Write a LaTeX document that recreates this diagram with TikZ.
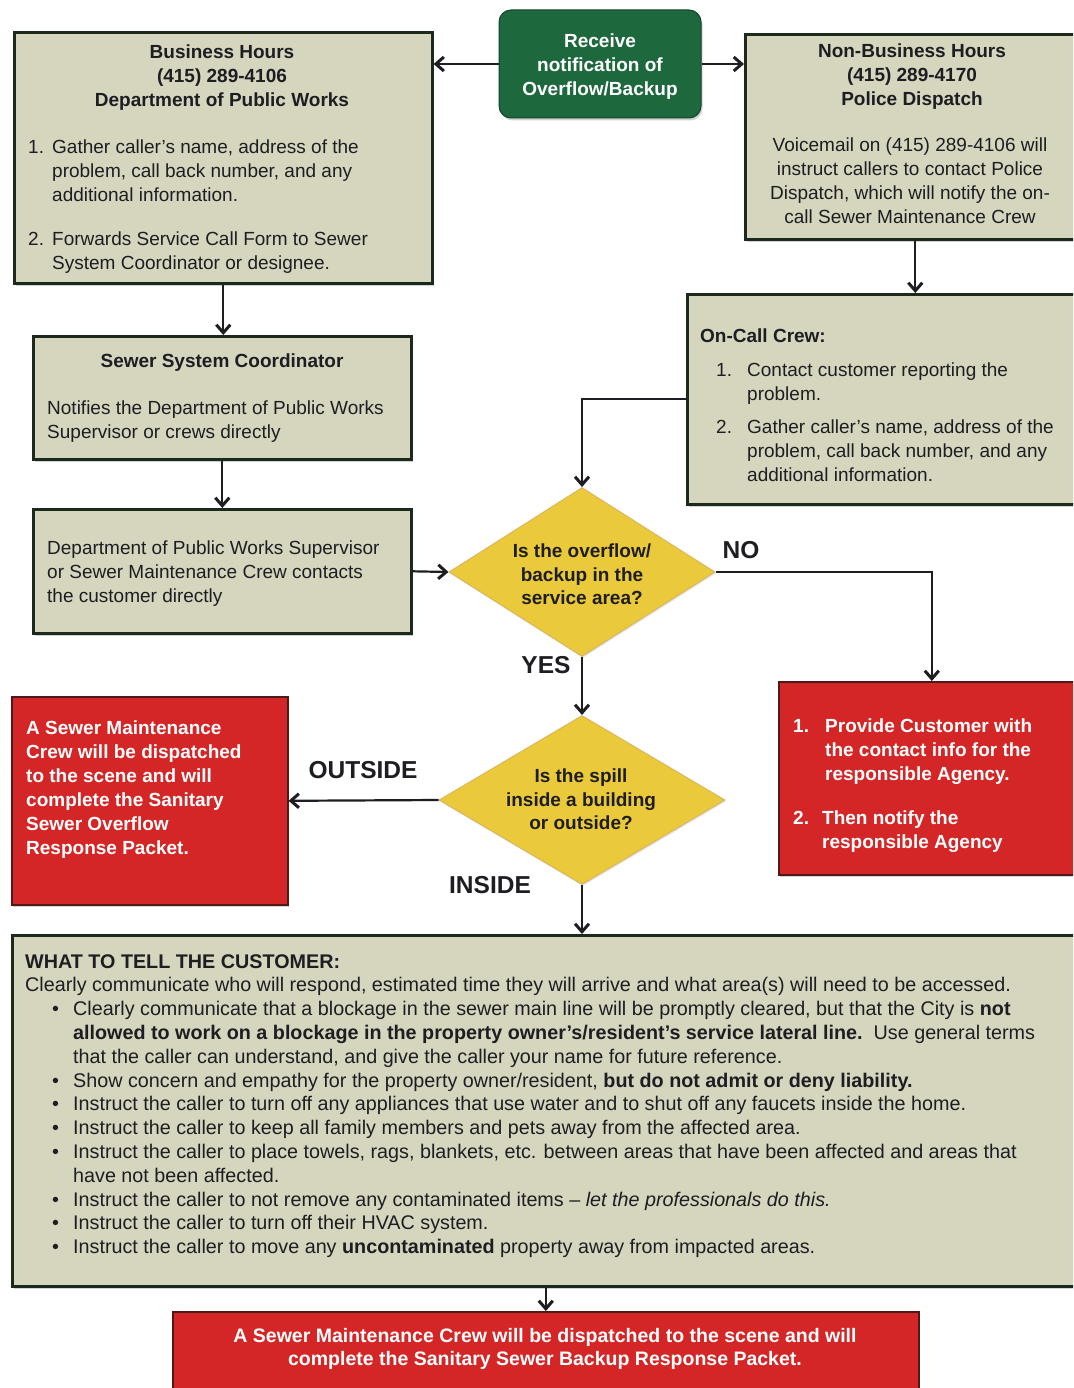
\documentclass[tikz,border=0pt]{standalone}
\usepackage{fontspec}
\setmainfont{Liberation Sans}
\usetikzlibrary{shapes.geometric,shadows,arrows.meta}

\definecolor{boxfill}{RGB}{214,213,190}
\definecolor{boxline}{RGB}{28,42,30}
\definecolor{okgreen}{RGB}{30,104,62}
\definecolor{okgreenline}{RGB}{18,70,40}
\definecolor{decide}{RGB}{234,202,58}
\definecolor{decideline}{RGB}{218,182,96}
\definecolor{alertred}{RGB}{212,38,38}
\definecolor{alertline}{RGB}{80,25,25}
\definecolor{ink}{RGB}{30,30,34}

% list helpers
\newcommand\itemno[2]{\makebox[#1][l]{#2}}
\newcommand\bulletrow{\hspace*{27pt}\makebox[21pt][l]{\textbullet}}
\newcommand\controw{\hspace*{48pt}}

\begin{document}
\begin{tikzpicture}[x=1pt,y=-1pt,
  shade/.style={drop shadow={shadow xshift=1.5pt,shadow yshift=-2.5pt,opacity=0.35}},
  panel/.style={rectangle, draw=boxline, line width=2.6pt, fill=boxfill, anchor=north west, inner sep=0pt, shade},
  alert/.style={rectangle, draw=alertline, line width=1.6pt, fill=alertred, anchor=north west, inner sep=0pt, shade},
  start/.style={rectangle, rounded corners=12pt, draw=okgreenline, line width=1pt, fill=okgreen, inner sep=0pt, shade},
  decision/.style={diamond, draw=decideline, line width=1pt, fill=decide, inner sep=0pt,
    drop shadow={shadow xshift=1pt,shadow yshift=-1.5pt,opacity=0.2}},
  txt/.style={inner sep=0pt, anchor=north west, align=left, text=ink, font=\fontsize{19}{24}\selectfont},
  head/.style={txt, anchor=north, align=center, font=\fontsize{19}{24}\selectfont\bfseries},
  qtxt/.style={txt, anchor=north, align=center, font=\fontsize{19}{23.5}\selectfont\bfseries},
  wtxt/.style={txt, text=white, font=\fontsize{19}{24}\selectfont\bfseries},
  tag/.style={inner sep=0pt, text=ink, font=\fontsize{24.5}{28}\selectfont\bfseries},
  flow/.style={draw=ink, line width=2.2pt, -{Straight Barb[length=8pt,width=14pt,line width=3pt]}}
]
\clip (0,0) rectangle (1073,1388);
\fill[white] (0,0) rectangle (1073,1388);

% ---- boxes ----
\node[start, minimum width=202pt, minimum height=108pt] (recv) at (600,64) {};
\node[head, text=white] (recvtext) at (600,34) {Receive\\notification of\\Overflow/Backup};

\node[panel, minimum width=418pt, minimum height=251pt] (bh) at (13,31) {};
\node[head] (bhhead) at (222,45) {Business Hours\\(415) 289-4106\\Department of Public Works};
\node[txt] (bhlist) at (28,140) {%
  \itemno{24pt}{1.}Gather caller’s name, address of the\\
  \hspace*{24pt}problem, call back number, and any\\
  \hspace*{24pt}additional information.\\[20pt]
  \itemno{24pt}{2.}Forwards Service Call Form to Sewer\\
  \hspace*{24pt}System Coordinator or designee.};

\node[panel, minimum width=340pt, minimum height=205pt] (nb) at (744,33) {};
\node[head] (nbhead) at (912,44) {Non-Business Hours\\(415) 289-4170\\Police Dispatch};
\node[txt, anchor=north, align=center] (nbtext) at (910,138)
  {Voicemail on (415) 289-4106 will\\instruct callers to contact Police\\Dispatch, which will notify the on-\\call Sewer Maintenance Crew};

\node[panel, minimum width=398pt, minimum height=210pt] (oc) at (686,293) {};
\node[txt, font=\fontsize{19}{24}\selectfont\bfseries] (ochead) at (700,329) {On-Call Crew:};
\node[txt] (oclist) at (716,363) {%
  \itemno{31pt}{1.}Contact customer reporting the\\
  \hspace*{31pt}problem.\\[9pt]
  \itemno{31pt}{2.}Gather caller’s name, address of the\\
  \hspace*{31pt}problem, call back number, and any\\
  \hspace*{31pt}additional information.};

\node[panel, minimum width=378pt, minimum height=123pt] (ssc) at (32,335) {};
\node[head] (sschead) at (222,354) {Sewer System Coordinator};
\node[txt] (ssctext) at (47,401) {Notifies the Department of Public Works\\Supervisor or crews directly};

\node[panel, minimum width=378pt, minimum height=124pt] (dpw) at (32,508) {};
\node[txt] (dpwtext) at (47,541) {Department of Public Works Supervisor\\or Sewer Maintenance Crew contacts\\the customer directly};

\node[decision, minimum width=266pt, minimum height=169pt] (d1) at (582,572) {};
\node[qtxt] (d1text) at (582,544) {Is the overflow/\\backup in the\\service area?};
\node[decision, minimum width=286pt, minimum height=169pt] (d2) at (582,800) {};
\node[qtxt] (d2text) at (581,769) {Is the spill\\inside a building\\or outside?};

\node[alert, minimum width=276pt, minimum height=208pt] (rl) at (11,696) {};
\node[wtxt] (rltext) at (26,721) {A Sewer Maintenance\\Crew will be dispatched\\to the scene and will\\complete the Sanitary\\Sewer Overflow\\Response Packet.};

\node[alert, minimum width=306pt, minimum height=193pt] (rr) at (778,681) {};
\node[wtxt] (rrtext) at (793,719) {%
  \itemno{32pt}{1.}Provide Customer with\\
  \hspace*{32pt}the contact info for the\\
  \hspace*{32pt}responsible Agency.\\[20pt]
  \itemno{29pt}{2.}Then notify the\\
  \hspace*{29pt}responsible Agency};

\node[panel, minimum width=1073pt, minimum height=351pt] (tell) at (11,934) {};
\node[txt, font=\fontsize{19.75}{23.8}\selectfont] (telltext) at (25,954) {%
  \textbf{WHAT TO TELL THE CUSTOMER:}\\
  Clearly communicate who will respond, estimated time they will arrive and what area(s) will need to be accessed.\\
  \bulletrow Clearly communicate that a blockage in the sewer main line will be promptly cleared, but that the City is \textbf{not}\\
  \controw\textbf{allowed to work on a blockage in the property owner’s/resident’s service lateral line.}\ \ Use general terms\\
  \controw that the caller can understand, and give the caller your name for future reference.\\
  \bulletrow Show concern and empathy for the property owner/resident, \textbf{but do not admit or deny liability.}\\
  \bulletrow Instruct the caller to turn off any appliances that use water and to shut off any faucets inside the home.\\
  \bulletrow Instruct the caller to keep all family members and pets away from the affected area.\\
  \bulletrow Instruct the caller to place towels, rags, blankets, etc. between areas that have been affected and areas that\\
  \controw have not been affected.\\
  \bulletrow Instruct the caller to not remove any contaminated items -- \textit{let the professionals do this.}\\
  \bulletrow Instruct the caller to turn off their HVAC system.\\
  \bulletrow Instruct the caller to move any \textbf{uncontaminated} property away from impacted areas.};

\node[alert, minimum width=746pt, minimum height=90pt] (last) at (172,1311) {};
\node[txt, anchor=north, align=center, text=white, font=\fontsize{19.5}{23.5}\selectfont\bfseries] (lasttext) at (545,1328)
  {A Sewer Maintenance Crew will be dispatched to the scene and will\\complete the Sanitary Sewer Backup Response Packet.};

% ---- branch labels ----
\node[tag] (lno) at (741,550) {NO};
\node[tag] (lyes) at (546,665) {YES};
\node[tag] (lout) at (363,770) {OUTSIDE};
\node[tag] (lin) at (490,885) {INSIDE};

% ---- connectors ----
\draw[flow] (recv.west) -- (recv.west -| bh.east);
\draw[flow] (recv.east) -- (recv.east -| nb.west);
\draw[flow] (bh.south) -- (bh.south |- ssc.north);
\draw[flow] (ssc.south) -- (ssc.south |- dpw.north);
\draw[flow] (dpw.east) -- (d1.west);
\draw[flow] (nb.south) -- (nb.south |- oc.north);
\draw[flow] (oc.west) -| (d1.north);
\draw[flow] (d1.east) -| (rr.north);
\draw[flow] (d1.south) -- (d2.north);
\draw[flow] (d2.west) -- (rl.east);
\draw[flow] (d2.south) -- (d2.south |- tell.north);
\draw[flow] (last.north |- tell.south) -- (last.north);
\end{tikzpicture}
\end{document}
